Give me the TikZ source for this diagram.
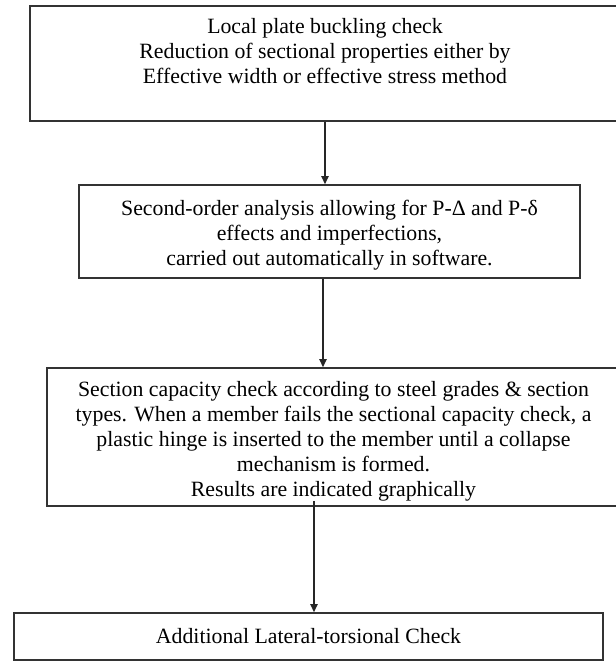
\documentclass[tikz,border=0pt]{standalone}
\usepackage{fontspec}
\setmainfont{Liberation Serif}
\usetikzlibrary{arrows.meta}

% extra room above the first line of a box
\newcommand{\toproom}{\rule{0pt}{11.5pt}}

\begin{document}
\begin{tikzpicture}[x=0.5pt, y=-0.5pt,
    stepbox/.style={draw=black!80, line width=0.8pt, align=center, inner sep=0pt,
        font=\fontsize{10.9}{12.5}\selectfont},
    arr/.style={draw=black!85, line width=0.7pt, -{Triangle[length=4pt,width=3.6pt]}}]
    \useasboundingbox (0,0) rectangle (616,661);

    % Draw the boxes
    \node[stepbox, minimum width=590*0.5pt, minimum height=115*0.5pt] (buckling) at (325,63.5)
        {\toproom Local plate buckling check\\
         Reduction of sectional properties either by\\
         Effective width or effective stress method\\
         \strut};
    \node[stepbox, minimum width=501*0.5pt, minimum height=93*0.5pt] (analysis) at (329.5,231.5)
        {\toproom Second-order analysis allowing for P-Δ and P-δ\\
         effects and imperfections,\\
         carried out automatically in software.};
    \node[stepbox, minimum width=573*0.5pt, minimum height=138*0.5pt] (capacity) at (333.5,437)
        {\toproom Section capacity check according to steel grades \& section\\
         types. When a member fails the sectional capacity check, a\\
         plastic hinge is inserted to the member until a collapse\\
         mechanism is formed.\\
         Results are indicated graphically};
    \node[stepbox, minimum width=589*0.5pt, minimum height=47*0.5pt] (lateral) at (308.5,636.5)
        {Additional Lateral-torsional Check};

    % Draw the arrows
    \draw[arr] (buckling.south) -- (buckling.south |- analysis.north);
    \draw[arr] ([xshift=-3.25pt]analysis.south) -- ([xshift=-3.25pt]analysis.south |- capacity.north);
    \draw[arr] ([xshift=-9.75pt, yshift=3pt]capacity.south) -- ([xshift=-9.75pt]capacity.south |- lateral.north);
\end{tikzpicture}
\end{document}
